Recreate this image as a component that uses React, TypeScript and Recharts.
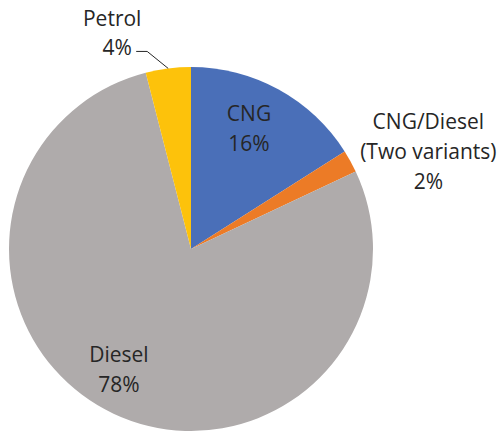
import { Cell, Pie, PieChart } from "recharts";

// 燃料タイプ別の構成比（%）
const fuelTypes = ["CNG", "CNG/Diesel", "Diesel", "Petrol"];
const shares = [16, 2, 78, 4];
const labelLines = [["CNG", "16%"], ["CNG/Diesel", "(Two variants)", "2%"], ["Diesel", "78%"], ["Petrol", "4%"]];

const COLORS = ["#4A6FB8", "#EC7B26", "#AFABAB", "#FDC20B"];
const FONT = "'Open Sans', sans-serif";
const FS = 21;

const data = fuelTypes.map((name, i) => ({ name, value: shares[i] }));

// ラベル位置: 扇形の中点角からの半径倍率と微調整
const LABEL_POS = [
  { k: 0.73, dx: -6, dy: -20 },
  { k: 1.3, dx: 30, dy: 16 },
  { k: 0.75, dx: -14, dy: -19 },
  { k: 1.0, dx: 0, dy: 0 },
];

const RAD = Math.PI / 180;

function renderLabel(props: any) {
  const { cx, cy, midAngle, outerRadius, index } = props;
  const lines = labelLines[index];
  const pos = LABEL_POS[index];
  const lh = 30;
  if (index === 3) {
    // Petrol: 引き出し線つき
    const ex = cx + outerRadius * Math.cos(-midAngle * RAD);
    const ey = cy + outerRadius * Math.sin(-midAngle * RAD);
    const kx = ex - 21;
    const ky = ey - 17;
    return (
      <g>
        <polyline points={`${ex},${ey} ${kx},${ky} ${kx - 11},${ky}`} fill="none" stroke="#262626" strokeWidth={1} />
        <text x={kx - 35} y={ky - 33} textAnchor="middle" dominantBaseline="central" fill="#262626" fontSize={FS} fontFamily={FONT}>
          {lines[0]}
        </text>
        <text x={kx - 30} y={ky - 4} textAnchor="middle" dominantBaseline="central" fill="#262626" fontSize={FS} fontFamily={FONT}>
          {lines[1]}
        </text>
      </g>
    );
  }
  const r = outerRadius * pos.k;
  const x = cx + r * Math.cos(-midAngle * RAD) + pos.dx;
  const y0 = cy + r * Math.sin(-midAngle * RAD) + pos.dy;
  const start = y0 - ((lines.length - 1) * lh) / 2 + (lines.length === 2 ? lh / 2 : 0);
  return (
    <g>
      {lines.map((t, i) => (
        <text key={i} x={x} y={start + i * lh} textAnchor="middle" dominantBaseline="central" fill="#262626" fontSize={FS} fontFamily={FONT}>
          {t}
        </text>
      ))}
    </g>
  );
}

export default function App() {
  return (
    <div style={{ position: "absolute", left: 0, top: 0, background: "#fff" }}>
      <PieChart width={497} height={434} margin={{ top: 0, right: 0, bottom: 0, left: 0 }}>
        <Pie
          data={data}
          dataKey="value"
          cx={191}
          cy={249}
          outerRadius={182}
          startAngle={90}
          endAngle={-270}
          stroke="none"
          label={renderLabel}
          labelLine={false}
          isAnimationActive={false}
        >
          {data.map((d, i) => (
            <Cell key={d.name} fill={COLORS[i]} />
          ))}
        </Pie>
      </PieChart>
    </div>
  );
}
